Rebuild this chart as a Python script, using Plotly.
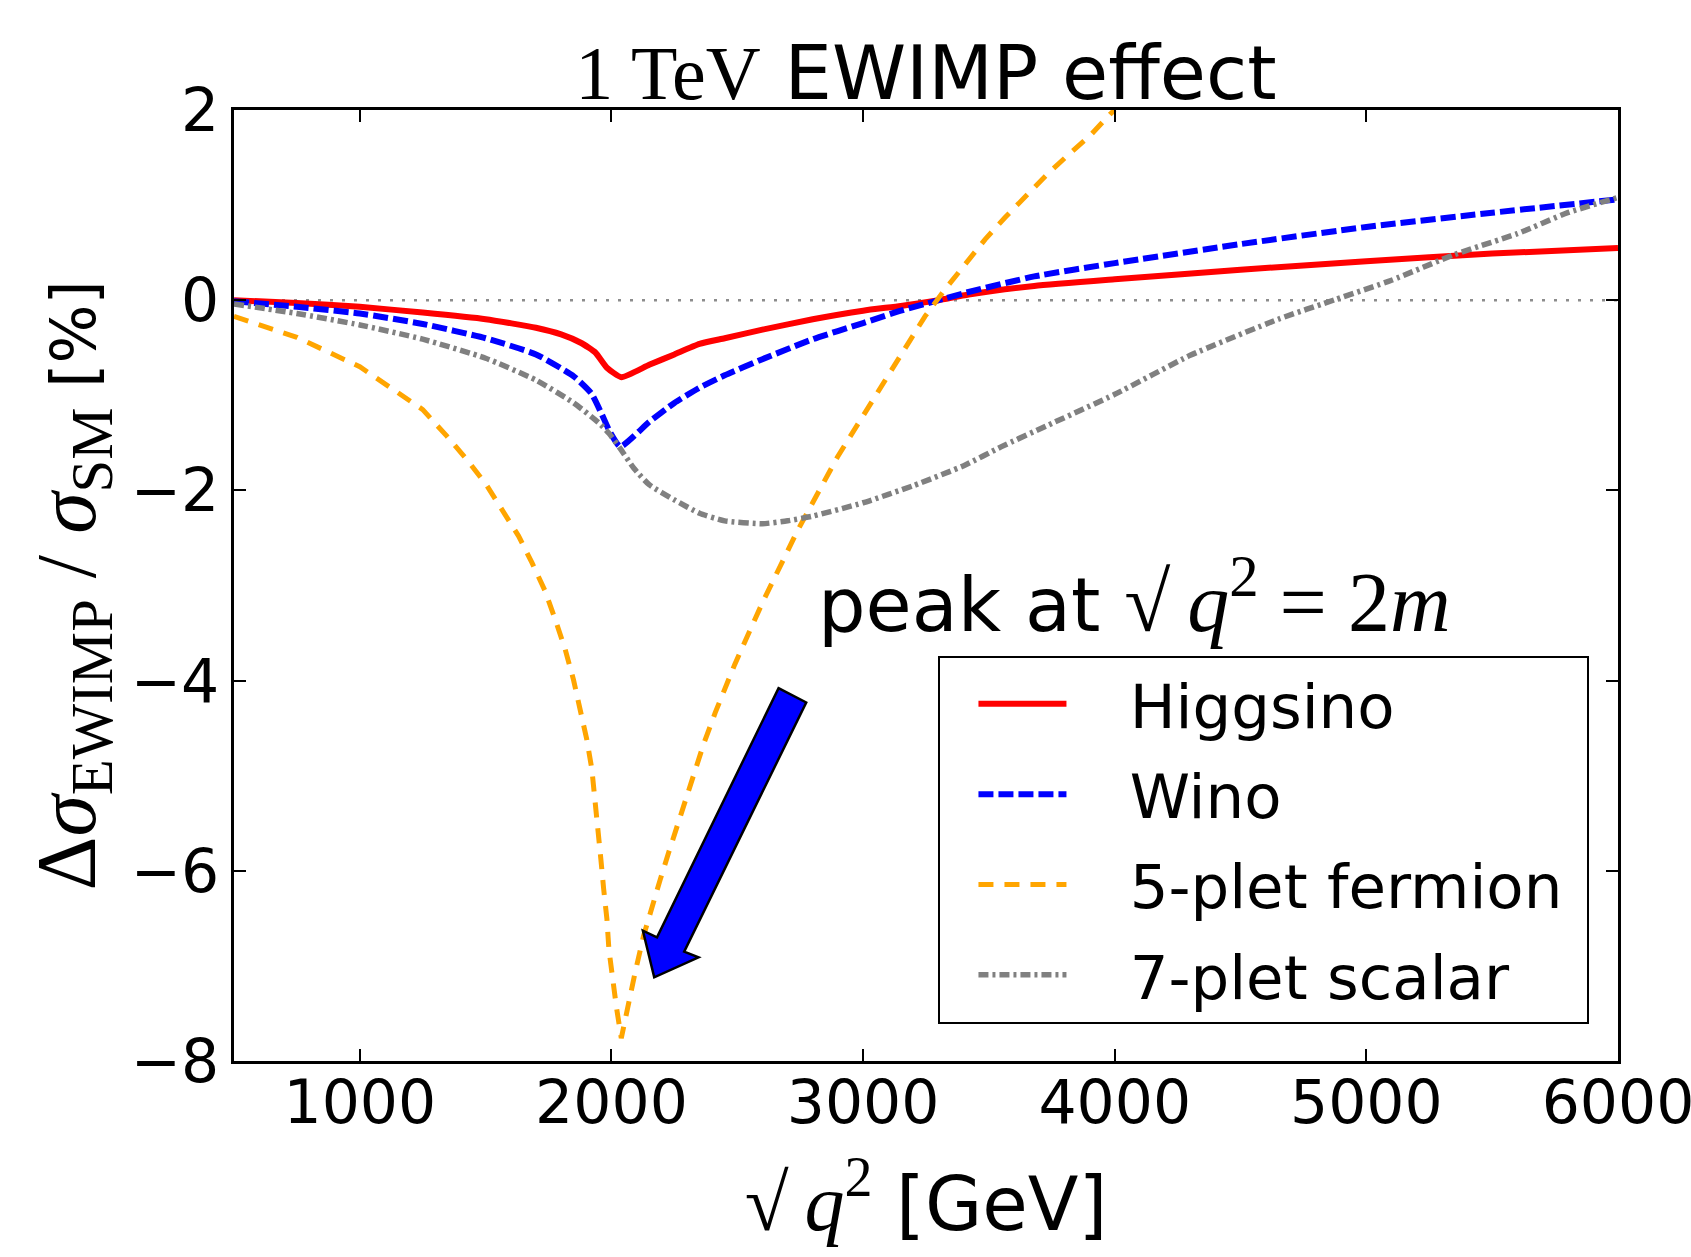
import plotly.graph_objects as go

# ---------------- data ----------------
higgsino_x = [500, 750, 1000, 1250, 1500, 1700, 1800, 1880, 1936, 1982, 2040, 2150, 2250, 2350,
              2450, 2600, 2800, 3000, 3150, 3300, 3420, 3680, 4000, 4500, 5000, 5500, 6000]
higgsino_y = [0.0, -0.03, -0.07, -0.13, -0.20, -0.29, -0.36, -0.45, -0.55, -0.71, -0.81, -0.68,
              -0.57, -0.46, -0.40, -0.31, -0.20, -0.11, -0.06, 0.0, 0.06, 0.15, 0.22, 0.32, 0.41,
              0.49, 0.55]

wino_x = [500, 750, 1000, 1250, 1500, 1700, 1850, 1920, 1960, 1995, 2035, 2150, 2250, 2350,
          2450, 2600, 2800, 3000, 3150, 3300, 3410, 3680, 4000, 4500, 5000, 5500, 6000]
wino_y = [-0.01, -0.07, -0.14, -0.25, -0.40, -0.57, -0.80, -0.98, -1.19, -1.39, -1.54, -1.28,
          -1.08, -0.92, -0.79, -0.62, -0.41, -0.24, -0.11, 0.0, 0.08, 0.25, 0.39, 0.59, 0.77,
          0.92, 1.06]

fiveplet_x = [500, 750, 1000, 1250, 1346, 1430, 1505, 1572, 1631, 1684, 1735, 1777, 1816, 1849,
              1876, 1902, 1922, 1935, 1949, 1958, 1969, 1982, 1990, 2002, 2019, 2039, 2059, 2094,
              2127, 2160, 2194, 2227, 2260, 2293, 2326, 2366, 2412, 2490, 2600, 2740, 2900, 3100,
              3246, 3326, 3405, 3485, 3564, 3650, 3730, 3816, 3902, 3981, 4000]
fiveplet_y = [-0.17, -0.39, -0.70, -1.15, -1.43, -1.69, -1.95, -2.22, -2.48, -2.76, -3.05, -3.36,
              -3.67, -3.99, -4.30, -4.62, -4.93, -5.25, -5.56, -5.88, -6.19, -6.51, -6.83, -7.11,
              -7.42, -7.76, -7.49, -7.07, -6.69, -6.37, -6.09, -5.81, -5.53, -5.25, -4.97, -4.67,
              -4.34, -3.83, -3.18, -2.42, -1.64, -0.80, -0.17, 0.115, 0.38, 0.64, 0.87, 1.11, 1.32,
              1.53, 1.73, 1.955, 2.0]

sevenplet_x = [500, 750, 1000, 1250, 1500, 1700, 1850, 1950, 1990, 2035, 2090, 2150, 2250, 2350,
               2450, 2600, 2700, 2800, 3000, 3200, 3400, 3550, 3730, 4000, 4300, 4650, 4880,
               5100, 5350, 5600, 5800, 6000]
sevenplet_y = [-0.04, -0.14, -0.26, -0.41, -0.61, -0.84, -1.08, -1.29, -1.40, -1.56, -1.77, -1.94,
               -2.10, -2.24, -2.32, -2.35, -2.32, -2.27, -2.13, -1.95, -1.74, -1.54, -1.32, -0.99,
               -0.58, -0.20, 0.01, 0.21, 0.48, 0.70, 0.92, 1.08]

x_ticks = [1000, 2000, 3000, 4000, 5000, 6000]
y_ticks = [-8, -6, -4, -2, 0, 2]
x_range = [500, 6000]
y_range = [-8, 2]

# arrow polygon (data coordinates) pointing at the 2m peak
arrow_x = [2664, 2774, 2289, 2346, 2170, 2125, 2181]
arrow_y = [-4.08, -4.23, -6.85, -6.91, -7.12, -6.63, -6.70]

SERIF = "Liberation Serif"
SANS = "DejaVu Sans"
PAD = "\u00a0\u00a0\u00a0"
TAIL = "\u00a0"

fig = go.Figure()
fig.add_trace(go.Scatter(x=higgsino_x, y=higgsino_y, mode="lines", name=PAD + "Higgsino" + TAIL,
                         legendgroup="a",
                         line=dict(color="#ff0000", width=6, shape="spline", smoothing=0.5)))
fig.add_trace(go.Scatter(x=wino_x, y=wino_y, mode="lines", name=PAD + "Wino" + TAIL,
                         legendgroup="b",
                         line=dict(color="#0000ff", width=6, dash="15px,5px",
                                   shape="spline", smoothing=0.5)))
fig.add_trace(go.Scatter(x=fiveplet_x, y=fiveplet_y, mode="lines",
                         name=PAD + "5-plet fermion" + TAIL, legendgroup="c",
                         line=dict(color="#ffa500", width=5, dash="15px,11px")))
fig.add_trace(go.Scatter(x=sevenplet_x, y=sevenplet_y, mode="lines",
                         name=PAD + "7-plet scalar" + TAIL, legendgroup="d",
                         line=dict(color="#808080", width=5.5, dash="10px,4px,3px,4px",
                                   shape="spline", smoothing=0.5)))

# zero reference line
fig.add_hline(y=0, line=dict(color="#8c8c8c", width=2.5, dash="3px,9px"), layer="below")

# arrow shape
path = "M " + " L ".join(f"{x},{y}" for x, y in zip(arrow_x, arrow_y)) + " Z"
fig.add_shape(type="path", path=path, xref="x", yref="y",
              fillcolor="#0000ff", line=dict(color="black", width=2.5))

SQRT_Q2 = "√\u2009<i>q</i><sup>2</sup>"

# "peak at" annotation
fig.add_annotation(x=4080, y=-3.12, xref="x", yref="y", showarrow=False,
                   xanchor="center", yanchor="middle",
                   text=(f"peak at <span style='font-family:{SERIF};font-size:84px'>{SQRT_Q2}"
                         f" = 2<i>m</i></span>"),
                   font=dict(family=SANS, size=75, color="black"))

L, R, T, B = 233.5, 73, 110, 196
W, H = 1691, 1257

fig.update_layout(
    width=W, height=H,
    margin=dict(l=L, r=R, t=T, b=B, autoexpand=False),
    plot_bgcolor="white", paper_bgcolor="white",
    font=dict(family=SANS, size=60, color="black"),
    title=dict(text=f"<span style='font-family:{SERIF};font-size:76px'>1 TeV</span> EWIMP effect",
               x=0.5, xanchor="center", xref="paper",
               y=1 - 73 / H, yanchor="middle", yref="container",
               font=dict(family=SANS, size=75, color="black")),
    showlegend=True,
    legend=dict(x=0.509, y=0.4262, xanchor="left", yanchor="top",
                bgcolor="white", bordercolor="black", borderwidth=2,
                font=dict(family=SANS, size=61, color="black"),
                itemwidth=88, indentation=33, tracegroupgap=8, traceorder="grouped"),
)

fig.update_xaxes(range=x_range, tickvals=x_ticks, ticks="inside", ticklen=12, tickwidth=1.5,
                 tickcolor="black", showline=True, linewidth=2.5, linecolor="black",
                 mirror="ticks", showgrid=False, zeroline=False,
                 ticklabeloverflow="allow", ticklabelstandoff=-13,
                 tickfont=dict(family=SANS, size=60),
                 title=dict(text=f"<span style='font-family:{SERIF};font-size:80px'>{SQRT_Q2}</span> [GeV]",
                            font=dict(family=SANS, size=74), standoff=43))
fig.update_yaxes(range=y_range, tickvals=y_ticks, ticks="inside", ticklen=12, tickwidth=1.5,
                 tickcolor="black", showline=True, linewidth=2.5, linecolor="black",
                 mirror="ticks", showgrid=False, zeroline=False,
                 tickfont=dict(family=SANS, size=60),
                 title=dict(text=(f"<span style='font-family:{SERIF};font-size:84px'>Δ<i>σ</i><sub>EWIMP</sub>"
                                  f" / <i>σ</i><sub>SM</sub></span> [%]"),
                            font=dict(family=SANS, size=62), standoff=16))

fig.write_html("out.html", config={"displayModeBar": False},
               post_script="document.body.style.margin='0px';")
